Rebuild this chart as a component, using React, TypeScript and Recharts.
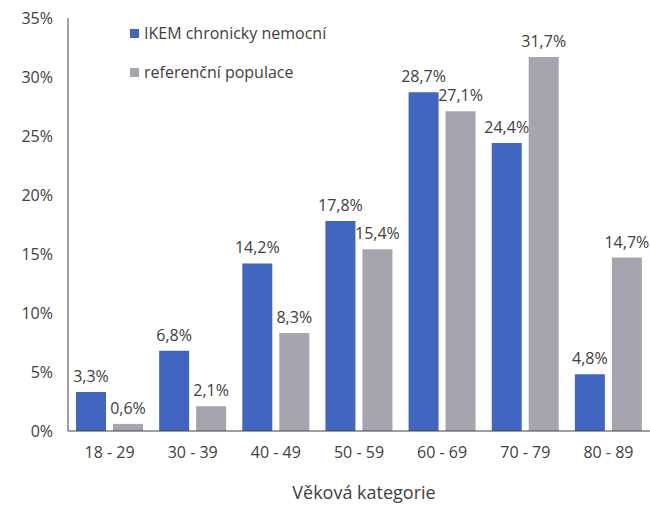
import { Bar, BarChart, LabelList, XAxis, YAxis } from 'recharts';

// age groups and shares (%)
const categories = ['18 - 29', '30 - 39', '40 - 49', '50 - 59', '60 - 69', '70 - 79', '80 - 89'];
const ikemValues = [3.3, 6.8, 14.2, 17.8, 28.7, 24.4, 4.8];
const populationValues = [0.6, 2.1, 8.3, 15.4, 27.1, 31.7, 14.7];
const yTicks = [0, 5, 10, 15, 20, 25, 30, 35];

const seriesNames = { ikem: 'IKEM chronicky nemocní', population: 'referenční populace' };
const BLUE = '#4066c0';
const GRAY = '#a6a4ae';
const TEXT = '#404040';
const FONT = '"Open Sans", "Noto Sans", sans-serif';

// note: don't call a key "ref", recharts spreads entries into props
const data = categories.map((age, i) => ({ age, ikem: ikemValues[i], population: populationValues[i] }));

const pct = (v: any) => `${Number(v).toFixed(1).replace('.', ',')}%`;

// legend drawn as an overlay so it doesn't eat plot space
const LegendBox = () => (
  <div style={{ position: 'absolute', top: 22, left: 130, fontFamily: FONT, fontSize: 16, color: TEXT }}>
    {[
      { name: seriesNames.ikem, color: BLUE },
      { name: seriesNames.population, color: GRAY },
    ].map((item, i) => (
      <div key={item.name} style={{ display: 'flex', alignItems: 'center', height: 22, marginBottom: i === 0 ? 17 : 0 }}>
        <span style={{ width: 9, height: 9, background: item.color, marginRight: 5, display: 'inline-block' }} />
        {item.name}
      </div>
    ))}
  </div>
);

const App = () => {
  // absolute at 0,0 so the body margin doesn't push it / cause scrollbars
  return (
    <div style={{ position: 'absolute', top: 0, left: 0, width: 650, height: 505, fontFamily: FONT }}>
      <BarChart
        width={650}
        height={505}
        data={data}
        margin={{ top: 18, right: 0, bottom: 0, left: 0 }}
        barGap={7}
      >
        <XAxis
          dataKey='age'
          height={74}
          tickLine={false}
          axisLine={{ stroke: '#404040' }}
          tick={{ fill: TEXT, fontSize: 16 }}
          tickMargin={10}
          label={{ value: 'Věková kategorie', position: 'insideBottom', offset: 6, dx: 5, fill: TEXT, fontSize: 18 }}
        />
        <YAxis
          width={68}
          domain={[0, 35]}
          ticks={yTicks}
          interval={0}
          tickLine={false}
          tickSize={0}
          tickMargin={15}
          axisLine={{ stroke: '#404040' }}
          tick={{ fill: TEXT, fontSize: 16 }}
          tickFormatter={(v) => `${v}%`}
        />
        <Bar dataKey='ikem' name={seriesNames.ikem} fill={BLUE} barSize={30} isAnimationActive={false}>
          <LabelList dataKey='ikem' position='top' offset={10} formatter={pct} fill={TEXT} fontSize={16} />
        </Bar>
        <Bar dataKey='population' name={seriesNames.population} fill={GRAY} barSize={30} isAnimationActive={false}>
          <LabelList dataKey='population' position='top' offset={10} formatter={pct} fill={TEXT} fontSize={16} />
        </Bar>
      </BarChart>
      <LegendBox />
    </div>
  );
};

export default App;
